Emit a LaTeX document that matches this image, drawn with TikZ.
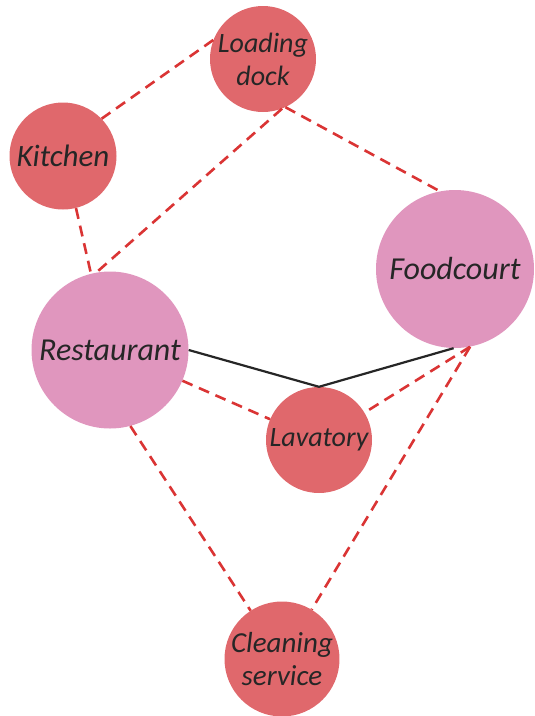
\documentclass[tikz,border=0pt]{standalone}
\usepackage{fontspec}
\setmainfont{Carlito}
\definecolor{roomred}{RGB}{224,104,108}
\definecolor{roompink}{RGB}{224,150,190}
\definecolor{linkred}{RGB}{218,52,52}
\begin{document}
\begin{tikzpicture}[x=1pt,y=-1pt,
  room/.style={circle,inner sep=0pt,align=center,text=black!85},
  small/.style={room,fill=roomred,font=\itshape\fontsize{28}{33}\selectfont},
  large/.style={room,fill=roompink,font=\itshape\fontsize{32}{36}\selectfont},
  weak/.style={draw=linkred,line width=2.6pt,dash pattern=on 11pt off 7pt},
  strong/.style={draw=black!85,line width=2.2pt}]
\useasboundingbox (0,0) rectangle (535,716);

\node[small,minimum size=106pt] (dock) at (263,59) {Loading\\dock};
\node[small,minimum size=107pt,font=\itshape\fontsize{31}{36}\selectfont] (kitchen) at (63,156) {Kitchen};
\node[large,minimum size=158pt] (food) at (455,269) {Foodcourt};
\node[large,minimum size=157pt] (rest) at (110,350) {Restaurant};
\node[small,minimum size=106pt] (lav) at (319,440) {Lavatory};
\node[small,minimum size=114pt,font=\itshape\fontsize{29}{33}\selectfont] (clean) at (282,659) {Cleaning\\service};

% dashed links
\draw[weak] (dock.159) -- (kitchen.44);
\draw[weak] (dock.-65) -- (food.101);
\draw[weak] (dock.-69) -- (rest.100);
\draw[weak] (kitchen.-76) -- (rest.104);
\draw[weak] (rest.-23) -- (lav.157);
\draw[weak] (rest.-75) -- (clean.123);
\draw[weak] (food.-79) -- (lav.31);
\draw[weak] (food.-79) -- (clean.59);

% solid link through the top of the lavatory
\draw[strong] (rest.0) -- (lav.north) -- (food.-91);
\end{tikzpicture}
\end{document}
